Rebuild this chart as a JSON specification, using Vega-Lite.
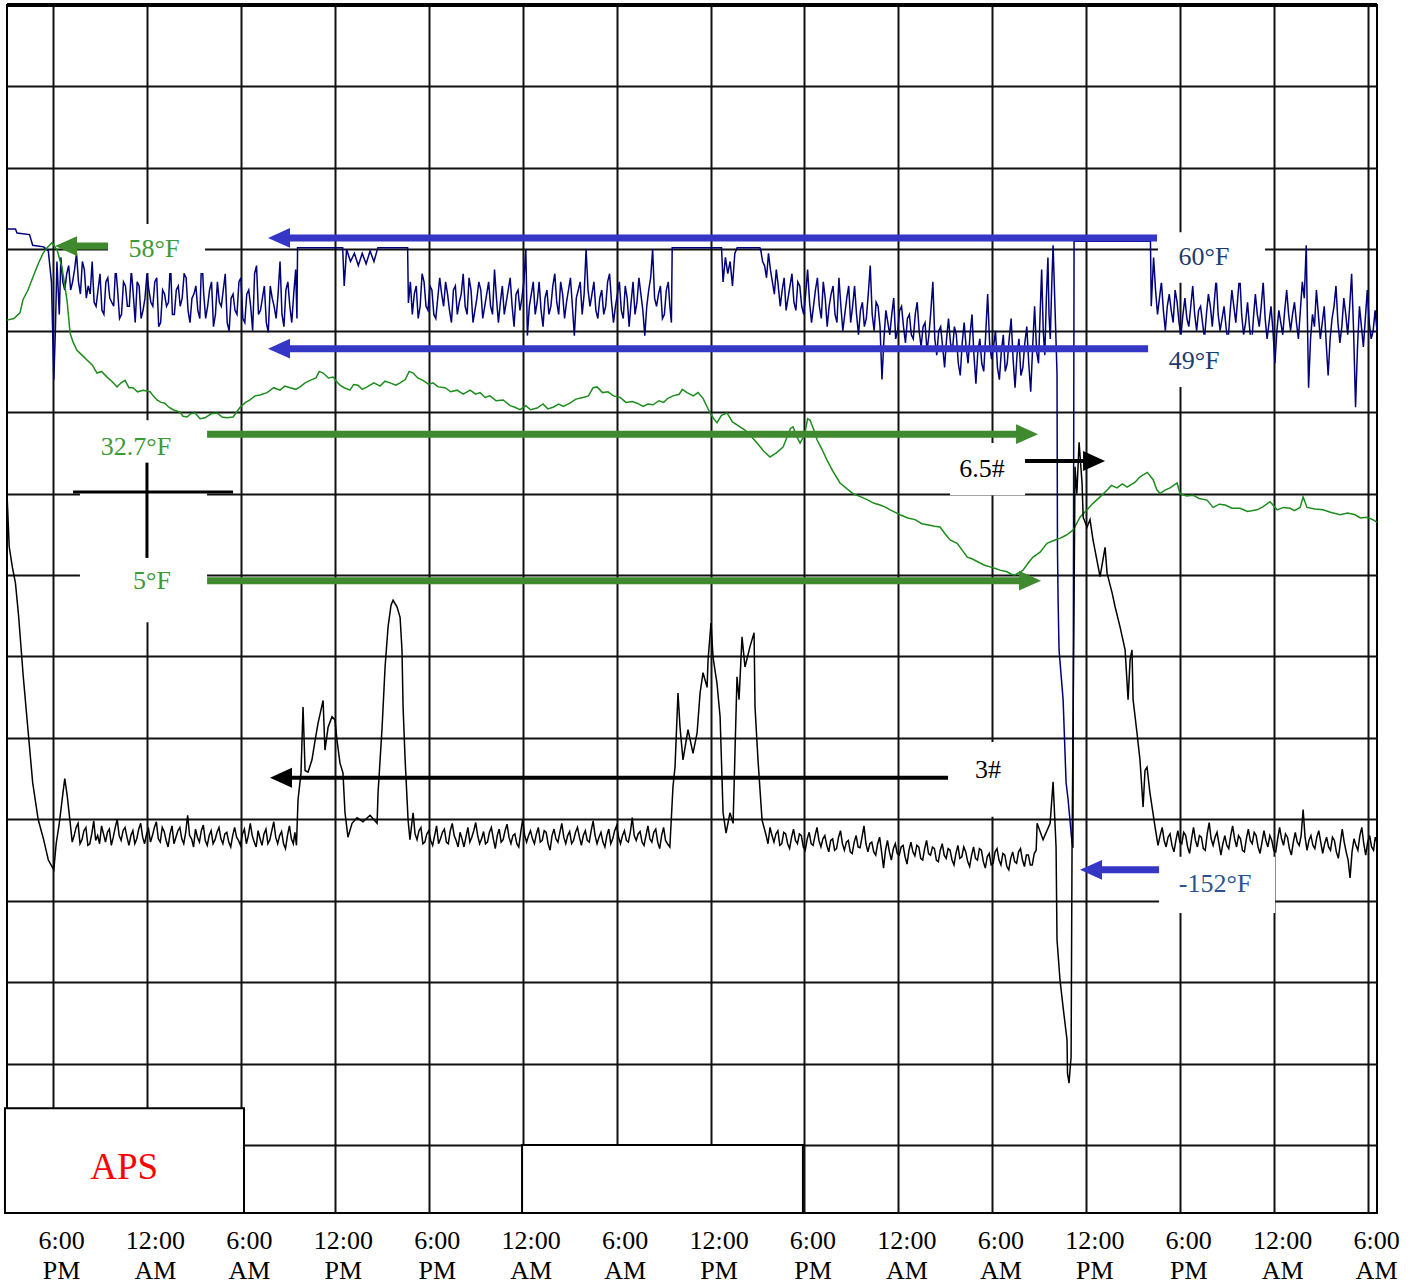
{
"$schema": "https://vega.github.io/schema/vega-lite/v6.json",
"width": 1370, "height": 1208,
"autosize": {"type": "none"},
"padding": {"left": 7, "top": 5, "right": 47, "bottom": 72},
"background": "white",
"view": {"stroke": "#000", "strokeWidth": 2},
"config": {"font": "Liberation Serif"},
"datasets": {
"blue": [
{"t":-2.94,"v":11.25},{"t":-2.4,"v":11.25},{"t":-2.3,"v":11.2},{"t":-1.5,"v":11.18},{"t":-1.3,"v":11.05},{"t":-0.6,"v":11.03},{"t":-0.3,"v":10.98},{"t":-0.1,"v":10.6},{"t":0.05,"v":9.4},{"t":0.15,"v":10.0},{"t":0.25,"v":10.85},{"t":0.4,"v":10.2},
{"t":0.5,"v":10.9},{"t":0.625,"v":10.6},{"t":0.75,"v":10.5},{"t":0.875,"v":10.7},{"t":1.0,"v":10.8},{"t":1.125,"v":10.5},{"t":1.25,"v":10.6},{"t":1.375,"v":10.75},{"t":1.5,"v":10.95},{"t":1.625,"v":10.6},{"t":1.75,"v":10.45},{"t":1.875,"v":10.85},{"t":2.0,"v":10.75},{"t":2.125,"v":10.4},{"t":2.25,"v":10.55},{"t":2.375,"v":10.45},{"t":2.5,"v":10.85},{"t":2.625,"v":10.35},{"t":2.75,"v":10.3},{"t":2.875,"v":10.5},{"t":3.0,"v":10.7},{"t":3.125,"v":10.25},{"t":3.25,"v":10.2},{"t":3.375,"v":10.6},{"t":3.5,"v":10.65},{"t":3.625,"v":10.4},{"t":3.75,"v":10.35},{"t":3.875,"v":10.3},{"t":4.0,"v":10.8},{"t":4.125,"v":10.5},{"t":4.25,"v":10.15},{"t":4.375,"v":10.2},{"t":4.5,"v":10.6},{"t":4.625,"v":10.55},{"t":4.75,"v":10.3},{"t":4.875,"v":10.3},{"t":5.0,"v":10.75},{"t":5.125,"v":10.45},{"t":5.25,"v":10.1},{"t":5.375,"v":10.6},{"t":5.5,"v":10.55},{"t":5.625,"v":10.15},{"t":5.75,"v":10.25},{"t":5.875,"v":10.4},{"t":6.0,"v":10.7},{"t":6.125,"v":10.5},{"t":6.25,"v":10.35},{"t":6.375,"v":10.3},{"t":6.5,"v":10.6},{"t":6.625,"v":10.65},{"t":6.75,"v":10.05},{"t":6.875,"v":10.1},{"t":7.0,"v":10.5},{"t":7.125,"v":10.45},{"t":7.25,"v":10.3},{"t":7.375,"v":10.35},{"t":7.5,"v":10.85},{"t":7.625,"v":10.2},{"t":7.75,"v":10.2},{"t":7.875,"v":10.5},{"t":8.0,"v":10.55},{"t":8.125,"v":10.3},{"t":8.25,"v":10.4},{"t":8.375,"v":10.7},{"t":8.5,"v":10.65},{"t":8.625,"v":10.25},{"t":8.75,"v":10.1},{"t":8.875,"v":10.4},{"t":9.0,"v":10.45},{"t":9.125,"v":10.55},{"t":9.25,"v":10.25},{"t":9.375,"v":10.15},{"t":9.5,"v":10.95},{"t":9.625,"v":10.45},{"t":9.75,"v":10.15},{"t":9.875,"v":10.3},{"t":10.0,"v":10.5},{"t":10.125,"v":10.6},{"t":10.25,"v":10.05},{"t":10.375,"v":10.2},{"t":10.5,"v":10.6},{"t":10.625,"v":10.35},{"t":10.75,"v":10.3},{"t":10.875,"v":10.5},{"t":11.0,"v":10.7},{"t":11.125,"v":10.1},{"t":11.25,"v":10.0},{"t":11.375,"v":10.4},{"t":11.5,"v":10.45},{"t":11.625,"v":10.25},{"t":11.75,"v":10.2},{"t":11.875,"v":10.6},{"t":12.0,"v":10.65},{"t":12.125,"v":10.15},{"t":12.25,"v":10.1},{"t":12.375,"v":10.45},{"t":12.5,"v":10.5},{"t":12.625,"v":10.3},{"t":12.75,"v":10.0},{"t":12.875,"v":10.7},{"t":13.0,"v":10.8},{"t":13.125,"v":10.2},{"t":13.25,"v":10.25},{"t":13.375,"v":10.4},{"t":13.5,"v":10.55},{"t":13.625,"v":10.1},{"t":13.75,"v":9.98},{"t":13.875,"v":10.55},{"t":14.0,"v":10.4},{"t":14.125,"v":10.3},{"t":14.25,"v":10.15},{"t":14.375,"v":10.45},{"t":14.5,"v":10.85},{"t":14.625,"v":10.2},{"t":14.75,"v":10.05},{"t":14.875,"v":10.5},{"t":15.0,"v":10.6},{"t":15.125,"v":10.3},{"t":15.25,"v":10.1},{"t":15.375,"v":10.45},{"t":15.5,"v":10.75},
{"t":15.58,"v":10.15},{"t":15.62,"v":11.02},{"t":18.5,"v":11.02},{"t":18.6,"v":10.55},{"t":18.75,"v":11.0},{"t":19.0,"v":10.85},{"t":19.25,"v":10.95},{"t":19.5,"v":10.8},{"t":19.75,"v":10.95},{"t":20.0,"v":10.82},{"t":20.25,"v":10.98},{"t":20.5,"v":10.85},{"t":20.75,"v":11.02},{"t":22.65,"v":11.02},
{"t":22.7,"v":10.34},{"t":22.825,"v":10.6},{"t":22.95,"v":10.2},{"t":23.075,"v":10.45},{"t":23.2,"v":10.55},{"t":23.325,"v":10.15},{"t":23.45,"v":10.3},{"t":23.575,"v":10.7},{"t":23.7,"v":10.6},{"t":23.825,"v":10.3},{"t":23.95,"v":10.25},{"t":24.075,"v":10.55},{"t":24.2,"v":10.5},{"t":24.325,"v":10.2},{"t":24.45,"v":10.15},{"t":24.575,"v":10.4},{"t":24.7,"v":10.65},{"t":24.825,"v":10.45},{"t":24.95,"v":10.3},{"t":25.075,"v":10.6},{"t":25.2,"v":10.45},{"t":25.325,"v":10.25},{"t":25.45,"v":10.1},{"t":25.575,"v":10.5},{"t":25.7,"v":10.55},{"t":25.825,"v":10.2},{"t":25.95,"v":10.35},{"t":26.075,"v":10.45},{"t":26.2,"v":10.7},{"t":26.325,"v":10.3},{"t":26.45,"v":10.2},{"t":26.575,"v":10.65},{"t":26.7,"v":10.5},{"t":26.825,"v":10.1},{"t":26.95,"v":10.25},{"t":27.075,"v":10.4},{"t":27.2,"v":10.6},{"t":27.325,"v":10.5},{"t":27.45,"v":10.15},{"t":27.575,"v":10.3},{"t":27.7,"v":10.45},{"t":27.825,"v":10.6},{"t":27.95,"v":10.3},{"t":28.075,"v":10.2},{"t":28.2,"v":10.75},{"t":28.325,"v":10.4},{"t":28.45,"v":10.1},{"t":28.575,"v":10.35},{"t":28.7,"v":10.55},{"t":28.825,"v":10.2},{"t":28.95,"v":10.35},{"t":29.075,"v":10.5},{"t":29.2,"v":10.65},{"t":29.325,"v":10.3},{"t":29.45,"v":10.05},{"t":29.575,"v":10.45},{"t":29.7,"v":10.5},{"t":29.825,"v":10.25},{"t":29.95,"v":10.4},{"t":30.075,"v":10.6},{"t":30.2,"v":11.0},{"t":30.3,"v":9.94},{"t":30.425,"v":10.3},{"t":30.55,"v":10.45},{"t":30.675,"v":10.6},{"t":30.8,"v":10.2},{"t":30.925,"v":10.35},{"t":31.05,"v":10.6},{"t":31.175,"v":10.25},{"t":31.3,"v":10.05},{"t":31.425,"v":10.4},{"t":31.55,"v":10.5},{"t":31.675,"v":10.2},{"t":31.8,"v":10.3},{"t":31.925,"v":10.55},{"t":32.05,"v":10.7},{"t":32.175,"v":10.35},{"t":32.3,"v":10.2},{"t":32.425,"v":10.6},{"t":32.55,"v":10.45},{"t":32.675,"v":10.15},{"t":32.8,"v":10.35},{"t":32.925,"v":10.5},{"t":33.05,"v":10.65},{"t":33.175,"v":10.3},{"t":33.3,"v":9.94},{"t":33.425,"v":10.4},{"t":33.55,"v":10.5},{"t":33.675,"v":10.6},{"t":33.8,"v":10.2},{"t":33.925,"v":10.45},{"t":34.05,"v":11.0},{"t":34.175,"v":10.5},{"t":34.3,"v":10.3},{"t":34.425,"v":10.45},{"t":34.55,"v":10.6},{"t":34.675,"v":10.25},{"t":34.8,"v":10.15},{"t":34.925,"v":10.4},{"t":35.05,"v":10.5},{"t":35.175,"v":10.2},{"t":35.3,"v":10.3},{"t":35.425,"v":10.6},{"t":35.55,"v":10.7},{"t":35.675,"v":10.35},{"t":35.8,"v":10.1},{"t":35.925,"v":10.3},{"t":36.05,"v":10.45},{"t":36.175,"v":10.6},{"t":36.3,"v":10.25},{"t":36.425,"v":10.15},{"t":36.55,"v":10.55},{"t":36.675,"v":10.4},{"t":36.8,"v":10.05},{"t":36.925,"v":10.35},{"t":37.05,"v":10.6},{"t":37.175,"v":10.2},{"t":37.3,"v":10.35},{"t":37.425,"v":10.65},{"t":37.55,"v":10.45},{"t":37.675,"v":10.25},{"t":37.8,"v":9.94},{"t":37.925,"v":10.3},{"t":38.05,"v":10.5},{"t":38.175,"v":10.65},{"t":38.3,"v":11.0},{"t":38.425,"v":10.4},{"t":38.55,"v":10.3},{"t":38.675,"v":10.45},{"t":38.8,"v":10.55},{"t":38.925,"v":10.15},{"t":39.05,"v":10.2},{"t":39.175,"v":10.5},{"t":39.3,"v":10.6},{"t":39.4,"v":10.3},{"t":39.5,"v":10.1},
{"t":39.55,"v":11.02},{"t":42.7,"v":11.02},{"t":42.8,"v":10.6},{"t":42.95,"v":10.9},{"t":43.1,"v":10.7},{"t":43.25,"v":10.85},{"t":43.4,"v":10.55},{"t":43.55,"v":10.95},{"t":43.7,"v":11.02},{"t":45.15,"v":11.02},
{"t":45.2,"v":11.0},{"t":45.325,"v":10.85},{"t":45.45,"v":10.8},{"t":45.575,"v":10.65},{"t":45.7,"v":10.95},{"t":45.825,"v":10.75},{"t":45.95,"v":10.6},{"t":46.075,"v":10.45},{"t":46.2,"v":10.75},{"t":46.325,"v":10.55},{"t":46.45,"v":10.3},{"t":46.575,"v":10.5},{"t":46.7,"v":10.65},{"t":46.825,"v":10.25},{"t":46.95,"v":10.4},{"t":47.075,"v":10.55},{"t":47.2,"v":10.7},{"t":47.325,"v":10.35},{"t":47.45,"v":10.25},{"t":47.575,"v":10.6},{"t":47.7,"v":10.55},{"t":47.825,"v":10.3},{"t":47.95,"v":10.2},{"t":48.075,"v":10.45},{"t":48.2,"v":10.75},{"t":48.325,"v":10.35},{"t":48.45,"v":10.1},{"t":48.575,"v":10.3},{"t":48.7,"v":10.5},{"t":48.825,"v":10.65},{"t":48.95,"v":10.3},{"t":49.075,"v":10.15},{"t":49.2,"v":10.6},{"t":49.325,"v":10.4},{"t":49.45,"v":10.05},{"t":49.575,"v":10.3},{"t":49.7,"v":10.45},{"t":49.825,"v":10.55},{"t":49.95,"v":10.2},{"t":50.075,"v":10.1},{"t":50.2,"v":10.65},{"t":50.325,"v":10.3},{"t":50.45,"v":10.0},{"t":50.575,"v":10.2},{"t":50.7,"v":10.4},{"t":50.825,"v":10.55},{"t":50.95,"v":10.1},{"t":51.075,"v":10.3},{"t":51.2,"v":10.55},{"t":51.325,"v":10.2},{"t":51.45,"v":9.95},{"t":51.575,"v":10.25},{"t":51.7,"v":10.35},{"t":51.825,"v":10.05},{"t":51.95,"v":10.15},{"t":52.075,"v":10.45},{"t":52.2,"v":10.8},{"t":52.325,"v":10.2},{"t":52.45,"v":10.0},{"t":52.575,"v":10.35},{"t":52.7,"v":10.3},{"t":52.825,"v":10.05},{"t":52.95,"v":9.4},{"t":53.075,"v":9.9},{"t":53.2,"v":10.25},{"t":53.325,"v":10.1},{"t":53.45,"v":9.95},{"t":53.575,"v":10.2},{"t":53.7,"v":10.4},{"t":53.825,"v":9.9},{"t":53.95,"v":10.0},{"t":54.075,"v":10.25},{"t":54.2,"v":10.3},{"t":54.325,"v":10.05},{"t":54.45,"v":9.85},{"t":54.575,"v":10.15},{"t":54.7,"v":10.2},{"t":54.825,"v":9.95},{"t":54.95,"v":9.9},{"t":55.075,"v":10.2},{"t":55.2,"v":10.35},{"t":55.325,"v":10.0},{"t":55.45,"v":9.8},{"t":55.575,"v":10.05},{"t":55.7,"v":10.1},{"t":55.825,"v":9.75},{"t":55.95,"v":9.95},{"t":56.075,"v":10.25},{"t":56.2,"v":10.6},{"t":56.325,"v":9.9},{"t":56.45,"v":9.7},{"t":56.575,"v":10.0},{"t":56.7,"v":10.05},{"t":56.825,"v":9.8},{"t":56.95,"v":9.55},{"t":57.075,"v":9.9},{"t":57.2,"v":10.15},{"t":57.325,"v":9.85},{"t":57.45,"v":9.75},{"t":57.575,"v":10.05},{"t":57.7,"v":9.95},{"t":57.825,"v":9.6},{"t":57.95,"v":9.45},{"t":58.075,"v":9.85},{"t":58.2,"v":10.1},{"t":58.325,"v":9.8},{"t":58.45,"v":9.6},{"t":58.575,"v":9.95},{"t":58.7,"v":10.2},{"t":58.825,"v":9.7},{"t":58.95,"v":9.35},{"t":59.075,"v":9.75},{"t":59.2,"v":9.9},{"t":59.325,"v":9.6},{"t":59.45,"v":9.5},{"t":59.575,"v":9.95},{"t":59.7,"v":10.45},{"t":59.825,"v":9.85},{"t":59.95,"v":9.65},{"t":60.075,"v":9.8},{"t":60.2,"v":10.0},{"t":60.325,"v":9.55},{"t":60.45,"v":9.4},{"t":60.575,"v":9.75},{"t":60.7,"v":9.95},{"t":60.825,"v":9.5},{"t":60.95,"v":9.6},{"t":61.075,"v":9.9},{"t":61.2,"v":10.15},{"t":61.325,"v":9.65},{"t":61.45,"v":9.3},{"t":61.575,"v":9.7},{"t":61.7,"v":9.9},{"t":61.825,"v":9.45},{"t":61.95,"v":9.55},{"t":62.075,"v":9.85},{"t":62.2,"v":10.05},{"t":62.325,"v":9.6},{"t":62.45,"v":9.25},{"t":62.575,"v":9.8},{"t":62.7,"v":10.3},{"t":62.825,"v":9.75},{"t":62.95,"v":9.6},{"t":63.05,"v":10.2},{"t":63.15,"v":10.75},{"t":63.25,"v":10.0},{"t":63.35,"v":9.7},{"t":63.45,"v":10.4},{"t":63.55,"v":10.9},{"t":63.62,"v":10.2},{"t":63.7,"v":9.9},{"t":63.8,"v":10.6},
{"t":63.88,"v":11.05},{"t":64.13,"v":9.48},{"t":64.16,"v":7.31},{"t":64.2,"v":6.69},{"t":64.26,"v":6.08},{"t":64.52,"v":5.47},{"t":64.71,"v":4.45},{"t":64.84,"v":4.24},{"t":65.09,"v":3.71},{"t":65.15,"v":3.65},{"t":65.22,"v":11.1},{"t":70.1,"v":11.1},{"t":70.15,"v":10.3},
{"t":70.3,"v":10.9},{"t":70.425,"v":10.5},{"t":70.55,"v":10.2},{"t":70.675,"v":10.4},{"t":70.8,"v":10.6},{"t":70.925,"v":10.25},{"t":71.05,"v":10.0},{"t":71.175,"v":10.3},{"t":71.3,"v":10.45},{"t":71.425,"v":10.25},{"t":71.55,"v":10.1},{"t":71.675,"v":10.5},{"t":71.8,"v":10.35},{"t":71.925,"v":10.1},{"t":72.05,"v":9.95},{"t":72.175,"v":10.2},{"t":72.3,"v":10.4},{"t":72.425,"v":10.15},{"t":72.55,"v":10.05},{"t":72.675,"v":10.3},{"t":72.8,"v":10.55},{"t":72.925,"v":10.2},{"t":73.05,"v":10.0},{"t":73.175,"v":10.25},{"t":73.3,"v":10.3},{"t":73.425,"v":10.1},{"t":73.55,"v":9.9},{"t":73.675,"v":10.2},{"t":73.8,"v":10.45},{"t":73.925,"v":10.3},{"t":74.05,"v":10.05},{"t":74.175,"v":10.35},{"t":74.3,"v":10.65},{"t":74.425,"v":10.2},{"t":74.55,"v":10.0},{"t":74.675,"v":10.15},{"t":74.8,"v":10.3},{"t":74.925,"v":10.05},{"t":75.05,"v":9.85},{"t":75.175,"v":10.2},{"t":75.3,"v":10.5},{"t":75.425,"v":10.3},{"t":75.55,"v":10.1},{"t":75.675,"v":10.4},{"t":75.8,"v":10.7},{"t":75.925,"v":10.2},{"t":76.05,"v":9.95},{"t":76.175,"v":10.1},{"t":76.3,"v":10.35},{"t":76.425,"v":10.05},{"t":76.55,"v":9.8},{"t":76.675,"v":10.15},{"t":76.8,"v":10.45},{"t":76.925,"v":10.2},{"t":77.05,"v":10.05},{"t":77.175,"v":10.3},{"t":77.3,"v":10.6},{"t":77.425,"v":10.15},{"t":77.55,"v":9.9},{"t":77.675,"v":10.1},{"t":77.8,"v":10.3},{"t":77.925,"v":10.0},{"t":78.05,"v":9.6},{"t":78.175,"v":10.0},{"t":78.3,"v":10.25},{"t":78.425,"v":10.1},{"t":78.55,"v":9.95},{"t":78.675,"v":10.25},{"t":78.8,"v":10.5},{"t":78.925,"v":10.2},{"t":79.05,"v":10.0},{"t":79.175,"v":10.2},{"t":79.3,"v":10.35},{"t":79.425,"v":10.1},{"t":79.55,"v":9.9},{"t":79.675,"v":10.25},{"t":79.8,"v":10.6},{"t":79.925,"v":10.4},{"t":80.05,"v":11.05},{"t":80.12,"v":10.2},{"t":80.2,"v":9.3},{"t":80.325,"v":9.9},{"t":80.45,"v":10.2},{"t":80.575,"v":10.05},{"t":80.7,"v":10.5},{"t":80.825,"v":10.2},{"t":80.95,"v":9.9},{"t":81.075,"v":10.1},{"t":81.2,"v":10.3},{"t":81.325,"v":9.85},{"t":81.45,"v":9.45},{"t":81.575,"v":9.9},{"t":81.7,"v":10.15},{"t":81.825,"v":10.3},{"t":81.95,"v":10.55},{"t":82.075,"v":10.1},{"t":82.2,"v":9.85},{"t":82.325,"v":10.05},{"t":82.45,"v":10.4},{"t":82.575,"v":10.2},{"t":82.7,"v":9.95},{"t":82.825,"v":10.3},{"t":82.95,"v":10.7},{"t":83.075,"v":10.0},{"t":83.2,"v":9.06},{"t":83.325,"v":9.8},{"t":83.45,"v":10.3},{"t":83.575,"v":10.05},{"t":83.7,"v":9.8},{"t":83.825,"v":10.15},{"t":83.95,"v":10.5},{"t":84.075,"v":10.1},{"t":84.2,"v":9.9},{"t":84.325,"v":10.0},{"t":84.45,"v":10.25},{"t":84.57,"v":10.0}
],
"green": [
{"t":-2.94,"v":10.13},{"t":-2.5,"v":10.15},{"t":-2.11,"v":10.22},{"t":-1.92,"v":10.38},{"t":-1.6,"v":10.5},{"t":-1.28,"v":10.66},{"t":-0.95,"v":10.82},{"t":-0.64,"v":10.95},{"t":-0.38,"v":11.02},{"t":-0.06,"v":11.08},{"t":0.26,"v":10.99},{"t":0.57,"v":10.78},{"t":0.89,"v":10.38},{"t":1.09,"v":9.97},{"t":1.3,"v":9.85},{"t":1.53,"v":9.76},{"t":1.85,"v":9.7},{"t":2.17,"v":9.64},{"t":2.5,"v":9.58},{"t":2.81,"v":9.48},{"t":3.1,"v":9.5},{"t":3.45,"v":9.43},{"t":3.75,"v":9.38},{"t":4.09,"v":9.31},{"t":4.35,"v":9.36},{"t":4.6,"v":9.39},{"t":4.85,"v":9.3},{"t":5.11,"v":9.3},{"t":5.4,"v":9.25},{"t":5.75,"v":9.27},{"t":6.2,"v":9.25},{"t":6.4,"v":9.2},{"t":6.64,"v":9.15},{"t":6.9,"v":9.12},{"t":7.15,"v":9.11},{"t":7.4,"v":9.06},{"t":7.67,"v":9.03},{"t":8.11,"v":9.0},{"t":8.3,"v":8.95},{"t":8.56,"v":8.94},{"t":8.8,"v":8.98},{"t":9.07,"v":8.99},{"t":9.4,"v":8.92},{"t":9.71,"v":8.93},{"t":10.1,"v":8.98},{"t":10.48,"v":8.99},{"t":10.8,"v":8.94},{"t":11.11,"v":8.93},{"t":11.5,"v":8.94},{"t":11.95,"v":9.06},{"t":12.3,"v":9.12},{"t":12.58,"v":9.15},{"t":12.9,"v":9.2},{"t":13.22,"v":9.21},{"t":13.67,"v":9.24},{"t":14.1,"v":9.3},{"t":14.5,"v":9.27},{"t":14.8,"v":9.32},{"t":15.14,"v":9.3},{"t":15.5,"v":9.28},{"t":15.78,"v":9.31},{"t":16.1,"v":9.36},{"t":16.42,"v":9.39},{"t":16.8,"v":9.42},{"t":17.0,"v":9.5},{"t":17.25,"v":9.48},{"t":17.6,"v":9.42},{"t":17.89,"v":9.43},{"t":18.1,"v":9.38},{"t":18.33,"v":9.33},{"t":18.6,"v":9.3},{"t":18.97,"v":9.27},{"t":19.2,"v":9.34},{"t":19.48,"v":9.33},{"t":19.75,"v":9.28},{"t":20.06,"v":9.31},{"t":20.5,"v":9.36},{"t":20.89,"v":9.32},{"t":21.2,"v":9.38},{"t":21.53,"v":9.36},{"t":21.9,"v":9.33},{"t":22.17,"v":9.36},{"t":22.5,"v":9.4},{"t":22.75,"v":9.5},{"t":23.0,"v":9.48},{"t":23.3,"v":9.42},{"t":23.63,"v":9.39},{"t":24.0,"v":9.34},{"t":24.27,"v":9.36},{"t":24.6,"v":9.31},{"t":25.04,"v":9.3},{"t":25.4,"v":9.25},{"t":25.81,"v":9.27},{"t":26.2,"v":9.22},{"t":26.64,"v":9.27},{"t":27.0,"v":9.22},{"t":27.28,"v":9.24},{"t":27.6,"v":9.18},{"t":27.91,"v":9.2},{"t":28.3,"v":9.14},{"t":28.75,"v":9.15},{"t":29.2,"v":9.08},{"t":29.5,"v":9.06},{"t":29.83,"v":9.03},{"t":30.2,"v":9.08},{"t":30.5,"v":9.03},{"t":30.92,"v":9.05},{"t":31.3,"v":9.1},{"t":31.6,"v":9.04},{"t":31.94,"v":9.06},{"t":32.3,"v":9.1},{"t":32.6,"v":9.07},{"t":33.02,"v":9.11},{"t":33.4,"v":9.16},{"t":33.86,"v":9.18},{"t":34.2,"v":9.2},{"t":34.5,"v":9.3},{"t":34.75,"v":9.31},{"t":35.1,"v":9.24},{"t":35.45,"v":9.25},{"t":35.8,"v":9.2},{"t":36.22,"v":9.18},{"t":36.6,"v":9.12},{"t":37.0,"v":9.13},{"t":37.3,"v":9.11},{"t":37.7,"v":9.07},{"t":38.0,"v":9.1},{"t":38.33,"v":9.09},{"t":38.7,"v":9.14},{"t":39.0,"v":9.12},{"t":39.28,"v":9.17},{"t":39.6,"v":9.2},{"t":40.0,"v":9.22},{"t":40.2,"v":9.28},{"t":40.5,"v":9.24},{"t":40.9,"v":9.2},{"t":41.2,"v":9.24},{"t":41.52,"v":9.17},{"t":41.97,"v":8.99},{"t":42.2,"v":8.92},{"t":42.41,"v":8.87},{"t":42.7,"v":8.96},{"t":43.05,"v":8.99},{"t":43.4,"v":8.88},{"t":43.88,"v":8.82},{"t":44.2,"v":8.78},{"t":44.52,"v":8.72},{"t":44.97,"v":8.62},{"t":45.4,"v":8.52},{"t":45.8,"v":8.45},{"t":46.2,"v":8.5},{"t":46.63,"v":8.57},{"t":46.9,"v":8.7},{"t":47.1,"v":8.8},{"t":47.27,"v":8.82},{"t":47.5,"v":8.7},{"t":47.72,"v":8.62},{"t":48.0,"v":8.72},{"t":48.2,"v":8.92},{"t":48.36,"v":8.9},{"t":48.6,"v":8.78},{"t":48.8,"v":8.66},{"t":49.1,"v":8.55},{"t":49.44,"v":8.41},{"t":49.8,"v":8.28},{"t":50.27,"v":8.13},{"t":50.7,"v":8.06},{"t":51.1,"v":8.0},{"t":51.6,"v":7.96},{"t":52.06,"v":7.92},{"t":52.45,"v":7.88},{"t":52.83,"v":7.86},{"t":53.2,"v":7.83},{"t":53.47,"v":7.8},{"t":53.8,"v":7.77},{"t":54.1,"v":7.74},{"t":54.6,"v":7.7},{"t":55.06,"v":7.68},{"t":55.5,"v":7.63},{"t":56.02,"v":7.61},{"t":56.3,"v":7.6},{"t":56.66,"v":7.59},{"t":57.0,"v":7.5},{"t":57.3,"v":7.43},{"t":57.75,"v":7.39},{"t":58.1,"v":7.3},{"t":58.39,"v":7.22},{"t":58.7,"v":7.2},{"t":59.09,"v":7.16},{"t":59.5,"v":7.12},{"t":59.85,"v":7.1},{"t":60.2,"v":7.08},{"t":60.49,"v":7.06},{"t":60.94,"v":7.04},{"t":61.2,"v":7.01},{"t":61.45,"v":7.0},{"t":61.7,"v":7.03},{"t":61.96,"v":7.06},{"t":62.3,"v":7.15},{"t":62.6,"v":7.22},{"t":63.05,"v":7.28},{"t":63.49,"v":7.39},{"t":64.0,"v":7.43},{"t":64.3,"v":7.45},{"t":64.52,"v":7.47},{"t":64.8,"v":7.5},{"t":65.15,"v":7.55},{"t":65.6,"v":7.71},{"t":66.05,"v":7.8},{"t":66.43,"v":7.88},{"t":66.88,"v":7.96},{"t":67.32,"v":8.04},{"t":67.6,"v":8.1},{"t":67.96,"v":8.07},{"t":68.3,"v":8.12},{"t":68.61,"v":8.08},{"t":69.12,"v":8.14},{"t":69.4,"v":8.2},{"t":69.63,"v":8.23},{"t":69.9,"v":8.26},{"t":70.27,"v":8.17},{"t":70.5,"v":8.05},{"t":70.71,"v":8.0},{"t":71.0,"v":8.04},{"t":71.35,"v":8.07},{"t":71.8,"v":8.13},{"t":71.99,"v":8.0},{"t":72.4,"v":7.97},{"t":72.82,"v":7.98},{"t":73.2,"v":7.94},{"t":73.71,"v":7.92},{"t":74.1,"v":7.83},{"t":74.5,"v":7.87},{"t":74.87,"v":7.86},{"t":75.3,"v":7.82},{"t":75.82,"v":7.82},{"t":76.3,"v":7.78},{"t":76.91,"v":7.8},{"t":77.3,"v":7.84},{"t":77.74,"v":7.9},{"t":78.19,"v":7.8},{"t":78.6,"v":7.83},{"t":79.02,"v":7.82},{"t":79.3,"v":7.79},{"t":79.66,"v":7.83},{"t":79.85,"v":7.96},{"t":80.1,"v":7.83},{"t":80.6,"v":7.81},{"t":81.12,"v":7.8},{"t":81.6,"v":7.77},{"t":82.21,"v":7.74},{"t":82.7,"v":7.76},{"t":83.17,"v":7.74},{"t":83.5,"v":7.7},{"t":83.93,"v":7.71},{"t":84.3,"v":7.68},{"t":84.57,"v":7.65}
],
"black": [
{"t":-2.94,"v":8.0},{"t":-2.8,"v":7.35},{"t":-2.6,"v":7.1},{"t":-2.4,"v":6.9},{"t":-2.2,"v":6.5},{"t":-1.9,"v":5.75},{"t":-1.6,"v":5.1},{"t":-1.3,"v":4.45},{"t":-0.95,"v":4.0},{"t":-0.6,"v":3.75},{"t":-0.3,"v":3.5},{"t":0.05,"v":3.38},{"t":0.2,"v":3.7},{"t":0.4,"v":3.95},{"t":0.65,"v":4.35},{"t":0.75,"v":4.5},{"t":0.9,"v":4.3},
{"t":1.1,"v":3.95},{"t":1.225,"v":3.72},{"t":1.35,"v":3.8},{"t":1.475,"v":3.9},{"t":1.6,"v":3.95},{"t":1.725,"v":3.7},{"t":1.85,"v":3.75},{"t":1.975,"v":3.86},{"t":2.1,"v":3.9},{"t":2.225,"v":3.68},{"t":2.35,"v":3.7},{"t":2.475,"v":3.82},{"t":2.6,"v":3.98},{"t":2.725,"v":3.74},{"t":2.85,"v":3.8},{"t":2.975,"v":3.7},{"t":3.1,"v":3.92},{"t":3.225,"v":3.82},{"t":3.35,"v":3.72},{"t":3.475,"v":3.84},{"t":3.6,"v":3.88},{"t":3.725,"v":3.68},{"t":3.85,"v":3.78},{"t":3.975,"v":3.9},{"t":4.1,"v":4.0},{"t":4.225,"v":3.8},{"t":4.35,"v":3.74},{"t":4.475,"v":3.86},{"t":4.6,"v":3.9},{"t":4.725,"v":3.78},{"t":4.85,"v":3.68},{"t":4.975,"v":3.8},{"t":5.1,"v":3.86},{"t":5.225,"v":3.7},{"t":5.35,"v":3.76},{"t":5.475,"v":3.88},{"t":5.6,"v":3.95},{"t":5.725,"v":3.78},{"t":5.85,"v":3.7},{"t":5.975,"v":3.82},{"t":6.1,"v":3.88},{"t":6.225,"v":3.72},{"t":6.35,"v":3.8},{"t":6.475,"v":3.9},{"t":6.6,"v":3.97},{"t":6.725,"v":3.76},{"t":6.85,"v":3.72},{"t":6.975,"v":3.9},{"t":7.1,"v":3.85},{"t":7.225,"v":3.74},{"t":7.35,"v":3.66},{"t":7.475,"v":3.82},{"t":7.6,"v":3.92},{"t":7.725,"v":3.7},{"t":7.85,"v":3.78},{"t":7.975,"v":3.86},{"t":8.1,"v":3.9},{"t":8.225,"v":3.76},{"t":8.35,"v":3.7},{"t":8.475,"v":3.84},{"t":8.6,"v":4.05},{"t":8.725,"v":3.8},{"t":8.85,"v":3.76},{"t":8.975,"v":3.66},{"t":9.1,"v":3.88},{"t":9.225,"v":3.78},{"t":9.35,"v":3.72},{"t":9.475,"v":3.86},{"t":9.6,"v":3.93},{"t":9.725,"v":3.74},{"t":9.85,"v":3.68},{"t":9.975,"v":3.8},{"t":10.1,"v":3.86},{"t":10.225,"v":3.7},{"t":10.35,"v":3.75},{"t":10.475,"v":3.84},{"t":10.6,"v":3.9},{"t":10.725,"v":3.76},{"t":10.85,"v":3.7},{"t":10.975,"v":3.82},{"t":11.1,"v":3.84},{"t":11.225,"v":3.72},{"t":11.35,"v":3.66},{"t":11.475,"v":3.8},{"t":11.6,"v":3.9},{"t":11.725,"v":3.78},{"t":11.85,"v":3.74},{"t":11.975,"v":3.68},{"t":12.1,"v":3.82},{"t":12.225,"v":3.88},{"t":12.35,"v":3.7},{"t":12.475,"v":3.8},{"t":12.6,"v":3.95},{"t":12.725,"v":3.8},{"t":12.85,"v":3.72},{"t":12.975,"v":3.66},{"t":13.1,"v":3.86},{"t":13.225,"v":3.76},{"t":13.35,"v":3.68},{"t":13.475,"v":3.82},{"t":13.6,"v":3.88},{"t":13.725,"v":3.7},{"t":13.85,"v":3.75},{"t":13.975,"v":3.86},{"t":14.1,"v":3.97},{"t":14.225,"v":3.78},{"t":14.35,"v":3.7},{"t":14.475,"v":3.8},{"t":14.6,"v":3.85},{"t":14.725,"v":3.7},{"t":14.85,"v":3.64},{"t":14.975,"v":3.8},{"t":15.1,"v":3.92},{"t":15.225,"v":3.76},{"t":15.35,"v":3.7},{"t":15.45,"v":3.84},{"t":15.55,"v":3.68},
{"t":15.65,"v":4.24},{"t":15.84,"v":4.57},{"t":15.97,"v":5.38},{"t":16.1,"v":4.6},{"t":16.29,"v":4.58},{"t":16.54,"v":4.73},{"t":16.74,"v":4.97},{"t":16.93,"v":5.18},{"t":17.25,"v":5.46},{"t":17.37,"v":4.85},{"t":17.57,"v":5.13},{"t":17.82,"v":5.26},{"t":18.01,"v":5.22},{"t":18.14,"v":4.97},{"t":18.33,"v":4.69},{"t":18.52,"v":4.57},{"t":18.65,"v":4.08},{"t":18.84,"v":3.78},{"t":19.1,"v":3.95},{"t":19.42,"v":4.02},{"t":19.8,"v":3.97},{"t":20.25,"v":4.05},{"t":20.7,"v":3.95},{"t":20.76,"v":4.32},{"t":21.02,"v":5.13},{"t":21.21,"v":5.87},{"t":21.4,"v":6.36},{"t":21.59,"v":6.63},{"t":21.72,"v":6.69},{"t":21.97,"v":6.61},{"t":22.17,"v":6.48},{"t":22.29,"v":6.08},{"t":22.36,"v":5.38},{"t":22.49,"v":4.73},{"t":22.68,"v":3.99},{"t":22.8,"v":3.75},
{"t":23.0,"v":4.08},{"t":23.125,"v":3.82},{"t":23.25,"v":3.75},{"t":23.375,"v":3.86},{"t":23.5,"v":3.9},{"t":23.625,"v":3.7},{"t":23.75,"v":3.72},{"t":23.875,"v":3.82},{"t":24.0,"v":3.86},{"t":24.125,"v":3.74},{"t":24.25,"v":3.68},{"t":24.375,"v":3.8},{"t":24.5,"v":3.92},{"t":24.625,"v":3.7},{"t":24.75,"v":3.76},{"t":24.875,"v":3.84},{"t":25.0,"v":3.88},{"t":25.125,"v":3.72},{"t":25.25,"v":3.7},{"t":25.375,"v":3.86},{"t":25.5,"v":3.95},{"t":25.625,"v":3.8},{"t":25.75,"v":3.74},{"t":25.875,"v":3.66},{"t":26.0,"v":3.84},{"t":26.125,"v":3.76},{"t":26.25,"v":3.66},{"t":26.375,"v":3.78},{"t":26.5,"v":3.9},{"t":26.625,"v":3.72},{"t":26.75,"v":3.78},{"t":26.875,"v":3.86},{"t":27.0,"v":3.96},{"t":27.125,"v":3.8},{"t":27.25,"v":3.7},{"t":27.375,"v":3.76},{"t":27.5,"v":3.85},{"t":27.625,"v":3.7},{"t":27.75,"v":3.72},{"t":27.875,"v":3.84},{"t":28.0,"v":3.9},{"t":28.125,"v":3.76},{"t":28.25,"v":3.64},{"t":28.375,"v":3.8},{"t":28.5,"v":3.88},{"t":28.625,"v":3.72},{"t":28.75,"v":3.75},{"t":28.875,"v":3.86},{"t":29.0,"v":3.94},{"t":29.125,"v":3.78},{"t":29.25,"v":3.7},{"t":29.375,"v":3.8},{"t":29.5,"v":3.82},{"t":29.625,"v":3.7},{"t":29.75,"v":3.66},{"t":29.875,"v":3.84},{"t":30.0,"v":4.0},{"t":30.125,"v":3.8},{"t":30.25,"v":3.72},{"t":30.375,"v":3.8},{"t":30.5,"v":3.86},{"t":30.625,"v":3.76},{"t":30.75,"v":3.7},{"t":30.875,"v":3.82},{"t":31.0,"v":3.9},{"t":31.125,"v":3.72},{"t":31.25,"v":3.74},{"t":31.375,"v":3.86},{"t":31.5,"v":3.84},{"t":31.625,"v":3.7},{"t":31.75,"v":3.62},{"t":31.875,"v":3.8},{"t":32.0,"v":3.88},{"t":32.125,"v":3.76},{"t":32.25,"v":3.72},{"t":32.375,"v":3.84},{"t":32.5,"v":3.95},{"t":32.625,"v":3.78},{"t":32.75,"v":3.7},{"t":32.875,"v":3.8},{"t":33.0,"v":3.85},{"t":33.125,"v":3.7},{"t":33.25,"v":3.74},{"t":33.375,"v":3.84},{"t":33.5,"v":3.9},{"t":33.625,"v":3.78},{"t":33.75,"v":3.68},{"t":33.875,"v":3.8},{"t":34.0,"v":3.86},{"t":34.125,"v":3.74},{"t":34.25,"v":3.72},{"t":34.375,"v":3.86},{"t":34.5,"v":3.98},{"t":34.625,"v":3.8},{"t":34.75,"v":3.7},{"t":34.875,"v":3.78},{"t":35.0,"v":3.84},{"t":35.125,"v":3.72},{"t":35.25,"v":3.66},{"t":35.375,"v":3.8},{"t":35.5,"v":3.88},{"t":35.625,"v":3.7},{"t":35.75,"v":3.76},{"t":35.875,"v":3.86},{"t":36.0,"v":3.92},{"t":36.125,"v":3.78},{"t":36.25,"v":3.7},{"t":36.375,"v":3.8},{"t":36.5,"v":3.86},{"t":36.625,"v":3.74},{"t":36.75,"v":3.72},{"t":36.875,"v":3.84},{"t":37.0,"v":4.02},{"t":37.125,"v":3.8},{"t":37.25,"v":3.74},{"t":37.375,"v":3.82},{"t":37.5,"v":3.85},{"t":37.625,"v":3.72},{"t":37.75,"v":3.68},{"t":37.875,"v":3.8},{"t":38.0,"v":3.92},{"t":38.125,"v":3.76},{"t":38.25,"v":3.72},{"t":38.375,"v":3.84},{"t":38.5,"v":3.88},{"t":38.625,"v":3.72},{"t":38.75,"v":3.64},{"t":38.875,"v":3.8},{"t":39.0,"v":3.9},{"t":39.125,"v":3.74},{"t":39.25,"v":3.7},{"t":39.4,"v":3.66},
{"t":39.6,"v":4.4},{"t":39.73,"v":4.64},{"t":39.92,"v":5.55},{"t":40.05,"v":5.13},{"t":40.24,"v":4.73},{"t":40.56,"v":5.1},{"t":40.88,"v":4.81},{"t":41.14,"v":5.06},{"t":41.33,"v":5.55},{"t":41.52,"v":5.8},{"t":41.78,"v":5.62},{"t":41.84,"v":5.96},{"t":42.03,"v":6.41},{"t":42.16,"v":5.99},{"t":42.41,"v":5.67},{"t":42.61,"v":5.26},{"t":42.8,"v":4.08},{"t":42.99,"v":3.83},{"t":43.24,"v":4.08},{"t":43.44,"v":3.95},{"t":43.57,"v":4.89},{"t":43.69,"v":5.75},{"t":43.82,"v":5.47},{"t":44.01,"v":6.24},{"t":44.2,"v":5.87},{"t":44.52,"v":6.12},{"t":44.78,"v":6.29},{"t":44.84,"v":5.38},{"t":45.03,"v":4.73},{"t":45.29,"v":3.99},
{"t":45.54,"v":3.81},{"t":45.67,"v":3.7},{"t":45.8,"v":3.9},{"t":45.925,"v":3.8},{"t":46.05,"v":3.72},{"t":46.175,"v":3.82},{"t":46.3,"v":3.86},{"t":46.425,"v":3.68},{"t":46.55,"v":3.7},{"t":46.675,"v":3.84},{"t":46.8,"v":3.82},{"t":46.925,"v":3.7},{"t":47.05,"v":3.64},{"t":47.175,"v":3.78},{"t":47.3,"v":3.88},{"t":47.425,"v":3.74},{"t":47.55,"v":3.7},{"t":47.675,"v":3.82},{"t":47.8,"v":3.8},{"t":47.925,"v":3.66},{"t":48.05,"v":3.62},{"t":48.175,"v":3.76},{"t":48.3,"v":3.84},{"t":48.425,"v":3.7},{"t":48.55,"v":3.68},{"t":48.675,"v":3.8},{"t":48.8,"v":3.9},{"t":48.925,"v":3.74},{"t":49.05,"v":3.66},{"t":49.175,"v":3.76},{"t":49.3,"v":3.8},{"t":49.425,"v":3.68},{"t":49.55,"v":3.6},{"t":49.675,"v":3.74},{"t":49.8,"v":3.76},{"t":49.925,"v":3.62},{"t":50.05,"v":3.64},{"t":50.175,"v":3.78},{"t":50.3,"v":3.86},{"t":50.425,"v":3.7},{"t":50.55,"v":3.62},{"t":50.675,"v":3.72},{"t":50.8,"v":3.74},{"t":50.925,"v":3.6},{"t":51.05,"v":3.58},{"t":51.175,"v":3.72},{"t":51.3,"v":3.8},{"t":51.425,"v":3.66},{"t":51.55,"v":3.65},{"t":51.675,"v":3.78},{"t":51.8,"v":3.92},{"t":51.925,"v":3.7},{"t":52.05,"v":3.6},{"t":52.175,"v":3.7},{"t":52.3,"v":3.72},{"t":52.425,"v":3.6},{"t":52.55,"v":3.56},{"t":52.675,"v":3.7},{"t":52.8,"v":3.78},{"t":52.925,"v":3.6},{"t":53.05,"v":3.4},{"t":53.175,"v":3.62},{"t":53.3,"v":3.74},{"t":53.425,"v":3.6},{"t":53.55,"v":3.5},{"t":53.675,"v":3.64},{"t":53.8,"v":3.7},{"t":53.925,"v":3.58},{"t":54.05,"v":3.56},{"t":54.175,"v":3.66},{"t":54.3,"v":3.68},{"t":54.425,"v":3.54},{"t":54.55,"v":3.45},{"t":54.675,"v":3.62},{"t":54.8,"v":3.72},{"t":54.925,"v":3.6},{"t":55.05,"v":3.55},{"t":55.175,"v":3.68},{"t":55.3,"v":3.66},{"t":55.425,"v":3.52},{"t":55.55,"v":3.5},{"t":55.675,"v":3.64},{"t":55.8,"v":3.74},{"t":55.925,"v":3.58},{"t":56.05,"v":3.56},{"t":56.175,"v":3.66},{"t":56.3,"v":3.64},{"t":56.425,"v":3.5},{"t":56.55,"v":3.48},{"t":56.675,"v":3.62},{"t":56.8,"v":3.7},{"t":56.925,"v":3.56},{"t":57.05,"v":3.52},{"t":57.175,"v":3.64},{"t":57.3,"v":3.62},{"t":57.425,"v":3.5},{"t":57.55,"v":3.44},{"t":57.675,"v":3.58},{"t":57.8,"v":3.68},{"t":57.925,"v":3.52},{"t":58.05,"v":3.54},{"t":58.175,"v":3.66},{"t":58.3,"v":3.6},{"t":58.425,"v":3.48},{"t":58.55,"v":3.42},{"t":58.675,"v":3.56},{"t":58.8,"v":3.66},{"t":58.925,"v":3.52},{"t":59.05,"v":3.5},{"t":59.175,"v":3.64},{"t":59.3,"v":3.62},{"t":59.425,"v":3.48},{"t":59.55,"v":3.4},{"t":59.675,"v":3.54},{"t":59.8,"v":3.58},{"t":59.925,"v":3.44},{"t":60.05,"v":3.46},{"t":60.175,"v":3.6},{"t":60.3,"v":3.64},{"t":60.425,"v":3.5},{"t":60.55,"v":3.44},{"t":60.675,"v":3.58},{"t":60.8,"v":3.56},{"t":60.925,"v":3.42},{"t":61.05,"v":3.38},{"t":61.175,"v":3.52},{"t":61.3,"v":3.6},{"t":61.425,"v":3.48},{"t":61.55,"v":3.46},{"t":61.675,"v":3.6},{"t":61.8,"v":3.64},{"t":61.925,"v":3.5},{"t":62.05,"v":3.42},{"t":62.175,"v":3.56},{"t":62.3,"v":3.56},{"t":62.425,"v":3.44},{"t":62.55,"v":3.44},{"t":62.675,"v":3.58},{"t":62.8,"v":3.62},
{"t":62.86,"v":3.95},{"t":63.24,"v":3.75},{"t":63.69,"v":3.95},{"t":63.88,"v":4.46},{"t":64.07,"v":3.66},{"t":64.13,"v":2.52},{"t":64.32,"v":2.03},{"t":64.52,"v":1.69},{"t":64.77,"v":1.29},{"t":64.8,"v":0.88},{"t":64.9,"v":0.76},{"t":64.96,"v":0.92},{"t":65.03,"v":1.08},{"t":65.09,"v":3.62},{"t":65.22,"v":6.69},{"t":65.28,"v":8.33},{"t":65.4,"v":8.0},{"t":65.54,"v":8.63},{"t":65.73,"v":8.13},{"t":65.8,"v":7.71},{"t":66.05,"v":7.59},{"t":66.24,"v":7.68},{"t":66.43,"v":7.43},{"t":66.88,"v":6.98},{"t":67.2,"v":7.34},{"t":67.33,"v":7.02},{"t":67.65,"v":6.78},{"t":67.84,"v":6.61},{"t":68.16,"v":6.36},{"t":68.48,"v":6.08},{"t":68.67,"v":5.47},{"t":68.8,"v":5.96},{"t":68.92,"v":6.08},{"t":68.99,"v":5.47},{"t":69.24,"v":5.06},{"t":69.43,"v":4.73},{"t":69.63,"v":4.15},{"t":69.75,"v":4.6},{"t":69.88,"v":4.64},{"t":70.07,"v":4.32},{"t":70.39,"v":3.91},
{"t":70.58,"v":3.68},{"t":70.715,"v":3.8},{"t":70.85,"v":3.9},{"t":70.975,"v":3.74},{"t":71.1,"v":3.66},{"t":71.225,"v":3.78},{"t":71.35,"v":3.82},{"t":71.475,"v":3.68},{"t":71.6,"v":3.6},{"t":71.725,"v":3.74},{"t":71.85,"v":3.86},{"t":71.975,"v":3.72},{"t":72.1,"v":3.7},{"t":72.225,"v":3.84},{"t":72.35,"v":3.8},{"t":72.475,"v":3.66},{"t":72.6,"v":3.58},{"t":72.725,"v":3.76},{"t":72.85,"v":3.9},{"t":72.975,"v":3.74},{"t":73.1,"v":3.66},{"t":73.225,"v":3.8},{"t":73.35,"v":3.78},{"t":73.475,"v":3.64},{"t":73.6,"v":3.62},{"t":73.725,"v":3.82},{"t":73.85,"v":3.96},{"t":73.975,"v":3.76},{"t":74.1,"v":3.68},{"t":74.225,"v":3.78},{"t":74.35,"v":3.84},{"t":74.475,"v":3.7},{"t":74.6,"v":3.56},{"t":74.725,"v":3.7},{"t":74.85,"v":3.8},{"t":74.975,"v":3.68},{"t":75.1,"v":3.64},{"t":75.225,"v":3.8},{"t":75.35,"v":3.92},{"t":75.475,"v":3.76},{"t":75.6,"v":3.66},{"t":75.725,"v":3.8},{"t":75.85,"v":3.76},{"t":75.975,"v":3.62},{"t":76.1,"v":3.6},{"t":76.225,"v":3.76},{"t":76.35,"v":3.88},{"t":76.475,"v":3.74},{"t":76.6,"v":3.7},{"t":76.725,"v":3.84},{"t":76.85,"v":3.8},{"t":76.975,"v":3.66},{"t":77.1,"v":3.58},{"t":77.225,"v":3.72},{"t":77.35,"v":3.86},{"t":77.475,"v":3.74},{"t":77.6,"v":3.66},{"t":77.725,"v":3.8},{"t":77.85,"v":3.74},{"t":77.975,"v":3.62},{"t":78.1,"v":3.6},{"t":78.225,"v":3.76},{"t":78.35,"v":3.9},{"t":78.475,"v":3.76},{"t":78.6,"v":3.68},{"t":78.725,"v":3.82},{"t":78.85,"v":3.78},{"t":78.975,"v":3.64},{"t":79.1,"v":3.56},{"t":79.225,"v":3.72},{"t":79.35,"v":3.84},{"t":79.475,"v":3.72},{"t":79.6,"v":3.68},{"t":79.725,"v":3.8},{"t":79.85,"v":4.12},{"t":79.975,"v":3.78},{"t":80.1,"v":3.62},{"t":80.225,"v":3.74},{"t":80.35,"v":3.8},{"t":80.475,"v":3.68},{"t":80.6,"v":3.64},{"t":80.725,"v":3.78},{"t":80.85,"v":3.86},{"t":80.975,"v":3.72},{"t":81.1,"v":3.58},{"t":81.225,"v":3.7},{"t":81.35,"v":3.78},{"t":81.475,"v":3.66},{"t":81.6,"v":3.62},{"t":81.725,"v":3.78},{"t":81.85,"v":3.74},{"t":81.975,"v":3.6},{"t":82.1,"v":3.52},{"t":82.225,"v":3.7},{"t":82.35,"v":3.88},{"t":82.475,"v":3.72},{"t":82.6,"v":3.6},{"t":82.725,"v":3.5},{"t":82.85,"v":3.28},{"t":82.975,"v":3.6},{"t":83.1,"v":3.76},{"t":83.225,"v":3.68},{"t":83.35,"v":3.62},{"t":83.475,"v":3.8},{"t":83.6,"v":3.9},{"t":83.725,"v":3.7},{"t":83.85,"v":3.56},{"t":83.975,"v":3.72},{"t":84.1,"v":3.8},{"t":84.225,"v":3.66},{"t":84.35,"v":3.62},{"t":84.46,"v":3.78},{"t":84.57,"v":3.72}
],
"boxes": [
{"t":3.51,"t2":9.71,"v":11.31,"v2":10.71,"k":"plain"},
{"t":70.58,"t2":77.42,"v":11.21,"v2":10.59,"k":"plain"},
{"t":70.01,"t2":77.42,"v":9.95,"v2":9.31,"k":"plain"},
{"t":1.72,"t2":9.84,"v":8.9,"v2":6.42,"k":"plain"},
{"t":57.3,"t2":62.09,"v":8.62,"v2":7.98,"k":"plain"},
{"t":57.17,"t2":62.41,"v":4.95,"v2":4.03,"k":"plain"},
{"t":70.65,"t2":78.06,"v":3.54,"v2":2.85,"k":"plain"},
{"t":-3.07,"t2":12.2,"v":0.45,"v2":-0.835,"k":"framed"},
{"t":29.96,"t2":47.9,"v":0,"v2":-0.835,"k":"framed"}
],
"cross": [
{"t":6,"t2":6,"v":8.38,"v2":7.21},
{"t":1.28,"t2":11.5,"v":8.02,"v2":8.02}
],
"border": [
{"t":-2.94,"t2":84.57,"v":14}
],
"arrows": [
{"k":"arrowblue","tail":70.52,"end":14.43,"tip":13.73,"v":11.14,"dir":"L"},
{"k":"arrowblue","tail":69.95,"end":14.43,"tip":13.73,"v":9.78,"dir":"L"},
{"k":"arrowblue","tail":70.65,"end":66.3,"tip":65.6,"v":3.38,"dir":"L"},
{"k":"arrowgreen","tail":3.51,"end":0.83,"tip":0.13,"v":11.04,"dir":"L"},
{"k":"arrowgreen","tail":9.84,"end":62.22,"tip":62.92,"v":8.73,"dir":"R"},
{"k":"arrowgreen","tail":9.84,"end":62.41,"tip":63.11,"v":6.93,"dir":"R"},
{"k":"black","tail":62.09,"end":66.8,"tip":67.2,"v":8.4,"dir":"R"},
{"k":"black","tail":57.17,"end":14.26,"tip":13.86,"v":4.51,"dir":"L"}
],
"labels": [
{"t":6.45,"v":11.0,"label":"58°F","k":"green"},
{"t":73.52,"v":10.91,"label":"60°F","k":"navy"},
{"t":72.89,"v":9.63,"label":"49°F","k":"navy"},
{"t":5.3,"v":8.57,"label":"32.7°F","k":"green"},
{"t":6.32,"v":6.93,"label":"5°F","k":"green"},
{"t":59.34,"v":8.3,"label":"6.5#","k":"black"},
{"t":59.73,"v":4.61,"label":"3#","k":"black"},
{"t":74.23,"v":3.21,"label":"-152°F","k":"blue"},
{"t":4.54,"v":-0.28,"label":"APS","k":"red"}
]
},
"layer": [
{"data":{"name":"blue"},"mark":{"type":"line","color":"#00007A","strokeWidth":1.5},
 "encoding":{
  "x":{"field":"t","type":"quantitative","scale":{"domain":[-2.94,84.57],"nice":false,"zero":false},
   "axis":{"values":[0,6,12,18,24,30,36,42,48,54,60,66,72,78,84],"grid":true,"gridColor":"#111","gridWidth":2,"domain":false,"ticks":false,"title":null,
    "labelExpr":"datum.value % 24 == 0 ? ['6:00','PM'] : datum.value % 24 == 6 ? ['12:00','AM'] : datum.value % 24 == 12 ? ['6:00','AM'] : ['12:00','PM']",
    "labelFont":"Liberation Serif","labelFontSize":26,"labelColor":"#000","labelLineHeight":30,"labelPadding":14,"labelOffset":8,"labelBaseline":"top","labelAlign":"center","labelOverlap":false,"labelFlush":false,"labelBound":false}},
  "y":{"field":"v","type":"quantitative","scale":{"domain":[-0.835,14],"nice":false,"zero":false},
   "axis":{"values":[0,1,2,3,4,5,6,7,8,9,10,11,12,13],"grid":true,"gridColor":"#111","gridWidth":2,"domain":false,"ticks":false,"labels":false,"title":null}}
 }},
{"data":{"name":"green"},"mark":{"type":"line","color":"#1C8C1C","strokeWidth":1.5},
 "encoding":{
  "x":{"field":"t","type":"quantitative","scale":{"domain":[-2.94,84.57],"nice":false,"zero":false}},
  "y":{"field":"v","type":"quantitative","scale":{"domain":[-0.835,14],"nice":false,"zero":false}}}},
{"data":{"name":"black"},"mark":{"type":"line","color":"#000","strokeWidth":1.5},
 "encoding":{
  "x":{"field":"t","type":"quantitative","scale":{"domain":[-2.94,84.57],"nice":false,"zero":false}},
  "y":{"field":"v","type":"quantitative","scale":{"domain":[-0.835,14],"nice":false,"zero":false}}}},
{"data":{"name":"boxes"},"transform":[{"filter":"datum.k == 'plain'"}],"mark":{"type":"rect","fill":"#fff","stroke":null},
 "encoding":{
  "x":{"field":"t","type":"quantitative","scale":{"domain":[-2.94,84.57],"nice":false,"zero":false}},"x2":{"field":"t2"},
  "y":{"field":"v","type":"quantitative","scale":{"domain":[-0.835,14],"nice":false,"zero":false}},"y2":{"field":"v2"}}},
{"data":{"name":"boxes"},"transform":[{"filter":"datum.k == 'framed'"}],"mark":{"type":"rect","fill":"#fff","stroke":"#000","strokeWidth":2},
 "encoding":{
  "x":{"field":"t","type":"quantitative","scale":{"domain":[-2.94,84.57],"nice":false,"zero":false}},"x2":{"field":"t2"},
  "y":{"field":"v","type":"quantitative","scale":{"domain":[-0.835,14],"nice":false,"zero":false}},"y2":{"field":"v2"}}},
{"data":{"name":"cross"},"mark":{"type":"rule","color":"#000","strokeWidth":3},
 "encoding":{
  "x":{"field":"t","type":"quantitative","scale":{"domain":[-2.94,84.57],"nice":false,"zero":false}},"x2":{"field":"t2"},
  "y":{"field":"v","type":"quantitative","scale":{"domain":[-0.835,14],"nice":false,"zero":false}},"y2":{"field":"v2"}}},
{"data":{"name":"border"},"mark":{"type":"rule","color":"#000","strokeWidth":4},
 "encoding":{
  "x":{"field":"t","type":"quantitative","scale":{"domain":[-2.94,84.57],"nice":false,"zero":false}},"x2":{"field":"t2"},
  "y":{"field":"v","type":"quantitative","scale":{"domain":[-0.835,14],"nice":false,"zero":false}}}},
{"data":{"name":"arrows"},"transform":[{"filter":"datum.k != 'black'"}],"mark":{"type":"rule","strokeWidth":7},
 "encoding":{
  "x":{"field":"tail","type":"quantitative","scale":{"domain":[-2.94,84.57],"nice":false,"zero":false}},"x2":{"field":"end"},
  "y":{"field":"v","type":"quantitative","scale":{"domain":[-0.835,14],"nice":false,"zero":false}},
  "color":{"field":"k","type":"nominal","scale":{"domain":["arrowblue","arrowgreen","black","green","navy","blue","red"],"range":["#3535C6","#3F8A2E","#000000","#3E9A32","#1D3A6E","#2B5193","#FF0000"]},"legend":null}}},
{"data":{"name":"arrows"},"transform":[{"filter":"datum.k == 'black'"}],"mark":{"type":"rule","strokeWidth":4},
 "encoding":{
  "x":{"field":"tail","type":"quantitative","scale":{"domain":[-2.94,84.57],"nice":false,"zero":false}},"x2":{"field":"end"},
  "y":{"field":"v","type":"quantitative","scale":{"domain":[-0.835,14],"nice":false,"zero":false}},
  "color":{"field":"k","type":"nominal","scale":{"domain":["arrowblue","arrowgreen","black","green","navy","blue","red"],"range":["#3535C6","#3F8A2E","#000000","#3E9A32","#1D3A6E","#2B5193","#FF0000"]},"legend":null}}},
{"data":{"name":"arrows"},"mark":{"type":"point","filled":true,"opacity":1,"strokeWidth":0},
 "encoding":{
  "x":{"field":"tip","type":"quantitative","scale":{"domain":[-2.94,84.57],"nice":false,"zero":false}},
  "y":{"field":"v","type":"quantitative","scale":{"domain":[-0.835,14],"nice":false,"zero":false}},
  "shape":{"field":"dir","type":"nominal","scale":{"domain":["L","R"],"range":["M 0 0 L 2 -0.9 L 2 0.9 Z","M 0 0 L -2 -0.9 L -2 0.9 Z"]},"legend":null},
  "size":{"field":"k","type":"ordinal","scale":{"domain":["arrowblue","arrowgreen","black"],"range":[484,484,160]},"legend":null},
  "color":{"field":"k","type":"nominal","scale":{"domain":["arrowblue","arrowgreen","black","green","navy","blue","red"],"range":["#3535C6","#3F8A2E","#000000","#3E9A32","#1D3A6E","#2B5193","#FF0000"]},"legend":null}}},
{"data":{"name":"labels"},"transform":[{"filter":"datum.k != 'red'"}],"mark":{"type":"text","font":"Liberation Serif","fontSize":26,"align":"center","baseline":"middle"},
 "encoding":{
  "x":{"field":"t","type":"quantitative","scale":{"domain":[-2.94,84.57],"nice":false,"zero":false}},
  "y":{"field":"v","type":"quantitative","scale":{"domain":[-0.835,14],"nice":false,"zero":false}},
  "text":{"field":"label"},
  "color":{"field":"k","type":"nominal","scale":{"domain":["arrowblue","arrowgreen","black","green","navy","blue","red"],"range":["#3535C6","#3F8A2E","#000000","#3E9A32","#1D3A6E","#2B5193","#FF0000"]},"legend":null}}},
{"data":{"name":"labels"},"transform":[{"filter":"datum.k == 'red'"}],"mark":{"type":"text","font":"Liberation Serif","fontSize":37,"align":"center","baseline":"middle"},
 "encoding":{
  "x":{"field":"t","type":"quantitative","scale":{"domain":[-2.94,84.57],"nice":false,"zero":false}},
  "y":{"field":"v","type":"quantitative","scale":{"domain":[-0.835,14],"nice":false,"zero":false}},
  "text":{"field":"label"},
  "color":{"field":"k","type":"nominal","scale":{"domain":["arrowblue","arrowgreen","black","green","navy","blue","red"],"range":["#3535C6","#3F8A2E","#000000","#3E9A32","#1D3A6E","#2B5193","#FF0000"]},"legend":null}}}
]
}
